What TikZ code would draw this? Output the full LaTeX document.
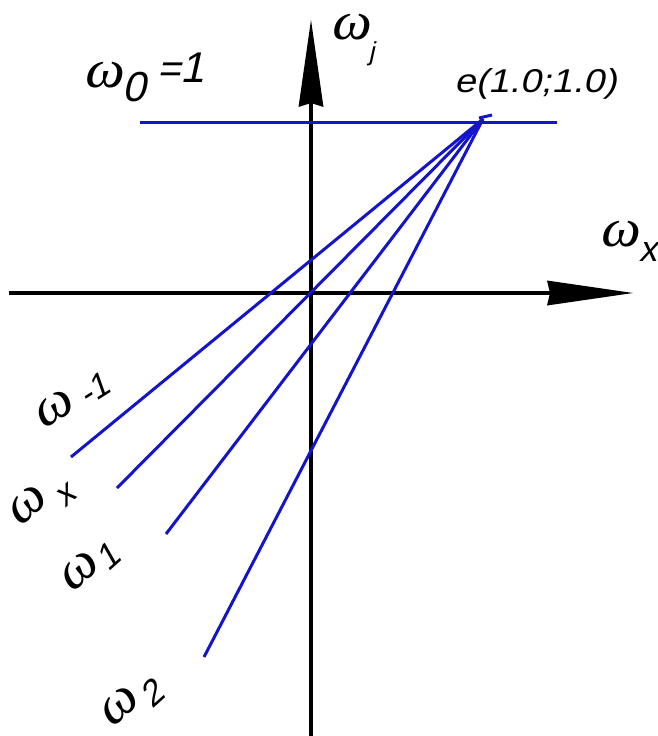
\documentclass[tikz,border=0pt]{standalone}
\usepackage{fontspec}
\setmainfont{Liberation Serif}
\newfontfamily\gostfont{Liberation Sans}
\newcommand\omgfont{\fontsize{54}{54}\selectfont}
\newcommand\gsz[1]{\gostfont\fontsize{#1}{#1}\selectfont}
\begin{document}
\begin{tikzpicture}[x=1pt,y=1pt,
  txt/.style={draw, draw opacity=0, inner sep=0pt},
  omg/.style={txt, font=\omgfont},
  gst/.style={txt}]
\useasboundingbox (0,0) rectangle (658,-736);
% rotated labels
\node[omg, rotate=32, xslant=0.2, xscale=1.1] (lm1w) at (55,-408) {ω};
\node[gst, rotate=32, xslant=0.22, font=\gsz{34}] (lm1s) at (96,-388) {-1};
\node[omg, rotate=42, xslant=0.2, xscale=1.1] (lxw) at (28,-505) {ω};
\node[gst, rotate=42, xslant=0.22, font=\gsz{34}] (lxs) at (67,-495) {x};
\node[omg, rotate=42, xslant=0.2, xscale=1.1] (l1w) at (80,-571) {ω};
\node[gst, rotate=42, xslant=0.22, font=\gsz{35}] (l1s) at (110,-555) {1};
\node[omg, rotate=42, xslant=0.2, xscale=1.1] (l2w) at (120,-706) {ω};
\node[gst, rotate=42, xslant=0.22, font=\gsz{35}] (l2s) at (154,-692) {2};
% top labels
\node[omg, xslant=0.2, xscale=1.1] (w0) at (106,-75) {ω};
\node[gst, xslant=0.22, font=\gsz{42}] (w0s) at (137,-87) {0};
\node[gst, xslant=0.22, font=\gsz{40}] (w0eq) at (171,-72.5) {=};
\node[gst, xslant=0.22, font=\gsz{43}] (w0one) at (195.5,-67.5) {1};
\node[omg, xslant=0.2, xscale=1.1] (wj) at (352.5,-27.5) {ω};
\node[gst, xslant=0.22, font=\gsz{26}] (wjs) at (373,-54) {j};
\node[omg, xslant=0.2, xscale=1.1] (wx) at (621.5,-234) {ω};
\node[gst, xslant=0.22, font=\gsz{36}] (wxs) at (650,-252) {x};
\node[gst, xslant=0.22, xscale=1.15, font=\gsz{33}] (elbl) at (537.5,-84) {e(1.0;1.0)};
% axes
\coordinate (xs) at (9,-293);
\coordinate (xb) at (550,-293);
\coordinate (xe) at (633,-293);
\coordinate (xu) at (547,-280.5);
\coordinate (xd) at (547,-305.5);
\coordinate (ys) at (311,-736);
\coordinate (yb) at (311,-103);
\coordinate (ye) at (311,-20);
\coordinate (yl) at (298.5,-107);
\coordinate (yr) at (323.5,-107);
\draw[line width=3.4pt] (xs) -- (xb);
\draw[line width=3.4pt] (ys) -- (yb);
\fill[black] (xe) -- (xu) -- (xb) -- (xd) -- cycle;
\fill[black] (ye) -- (yl) -- (yb) -- (yr) -- cycle;
% horizontal blue line
\definecolor{lineblue}{RGB}{20,20,205}
\coordinate (hl) at (140,-122);
\coordinate (hr) at (557,-122);
\draw[lineblue, line width=3pt] (hl) -- (hr);
% fan of lines
\coordinate (E) at (483,-119);
\coordinate (t1) at (479,-118);
\coordinate (t2) at (492,-115);
\coordinate (p1) at (71,-457);
\coordinate (p2) at (117,-488);
\coordinate (p3) at (166,-534);
\coordinate (p4) at (204,-657);
\draw[lineblue, line width=3pt] (E) -- (p1);
\draw[lineblue, line width=3pt] (E) -- (p2);
\draw[lineblue, line width=3pt] (E) -- (p3);
\draw[lineblue, line width=3pt] (E) -- (p4);
\draw[lineblue, line width=3pt] (t1) -- (t2);
\end{tikzpicture}
\end{document}
